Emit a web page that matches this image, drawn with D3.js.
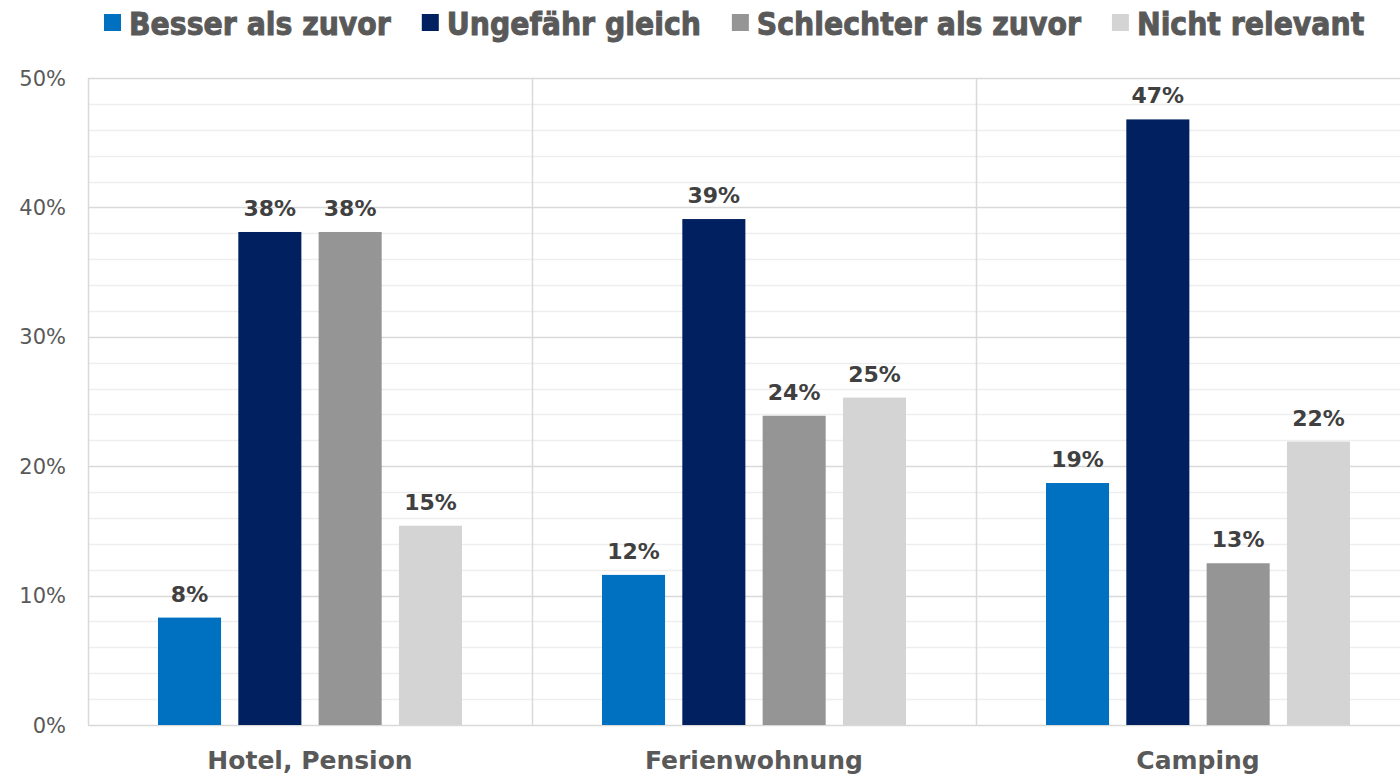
<!DOCTYPE html>
<html>
<head>
<meta charset="utf-8">
<script src="https://cdn.jsdelivr.net/npm/d3@7"></script>
<style>
  body { margin: 0; background: #fff; }
  text { font-family: "DejaVu Sans", sans-serif; }
</style>
</head>
<body>
<svg width="1400" height="776"></svg>
<script>
var categories = ["Hotel, Pension", "Ferienwohnung", "Camping"];
var seriesNames = ["Besser als zuvor", "Ungefähr gleich", "Schlechter als zuvor", "Nicht relevant"];
var seriesColors = ["#0070c0", "#002060", "#959595", "#d4d4d4"];
// values in percent, one array per series (Hotel, Ferienwohnung, Camping)
var besser = [8.3, 11.6, 18.7];
var gleich = [38.1, 39.1, 46.8];
var schlechter = [38.1, 23.9, 12.5];
var nichtRelevant = [15.4, 25.3, 21.9];
var yTicks = [0, 10, 20, 30, 40, 50];

var series = [besser, gleich, schlechter, nichtRelevant];

var svg = d3.select("svg"),
    margin = {left: 88, top: 78, bottom: 51},
    height = +svg.attr("height");

var x0 = d3.scaleBand()
    .domain(categories)
    .range([margin.left, margin.left + 444 * categories.length]);

var x1 = d3.scaleBand()
    .domain(d3.range(seriesNames.length))
    .range([70, x0.bandwidth() - 70])
    .paddingInner(0.215);

var y = d3.scaleLinear()
    .domain([0, 50])
    .range([height - margin.bottom, margin.top]);

// minor grid
svg.append("g")
  .selectAll("line")
  .data(d3.range(2, 50, 2).filter(function(d) { return d % 10; }))
  .enter().append("line")
    .attr("x1", margin.left).attr("x2", 1420)
    .attr("y1", function(d) { return Math.round(y(d)) + 0.5; })
    .attr("y2", function(d) { return Math.round(y(d)) + 0.5; })
    .attr("stroke", "#eeeeee")
    .attr("stroke-width", 1.5);

// major grid
svg.append("g")
  .selectAll("line")
  .data(yTicks)
  .enter().append("line")
    .attr("x1", margin.left).attr("x2", 1420)
    .attr("y1", function(d) { return Math.round(y(d)) + 0.5; })
    .attr("y2", function(d) { return Math.round(y(d)) + 0.5; })
    .attr("stroke", "#d9d9d9")
    .attr("stroke-width", 1.5);

// category separators
svg.append("g")
  .selectAll("line")
  .data(categories)
  .enter().append("line")
    .attr("x1", function(d) { return Math.round(x0(d)) + 0.5; })
    .attr("x2", function(d) { return Math.round(x0(d)) + 0.5; })
    .attr("y1", y(50)).attr("y2", y(0))
    .attr("stroke", "#d9d9d9")
    .attr("stroke-width", 1.5);

// y labels
svg.append("g")
  .selectAll("text")
  .data(yTicks)
  .enter().append("text")
    .attr("x", 66)
    .attr("y", function(d) { return y(d); })
    .attr("dy", "0.36em")
    .attr("text-anchor", "end")
    .attr("fill", "#595959")
    .style("font-size", "21px")
    .text(function(d) { return d + "%"; });

// bars
var group = svg.selectAll(".group")
  .data(categories)
  .enter().append("g")
    .attr("class", "group")
    .attr("transform", function(d) { return "translate(" + x0(d) + ",0)"; });

var bar = group.selectAll(".bar")
  .data(function(d, ci) { return series.map(function(s, si) { return {s: si, v: s[ci]}; }); })
  .enter();

bar.append("rect")
    .attr("x", function(d) { return x1(d.s); })
    .attr("width", x1.bandwidth())
    .attr("y", function(d) { return y(d.v); })
    .attr("height", function(d) { return y(0) - y(d.v); })
    .attr("fill", function(d) { return seriesColors[d.s]; });

bar.append("text")
    .attr("x", function(d) { return x1(d.s) + x1.bandwidth() / 2; })
    .attr("y", function(d) { return y(d.v) - 16; })
    .attr("text-anchor", "middle")
    .attr("fill", "#404040")
    .style("font-size", "22px")
    .style("font-weight", "bold")
    .text(function(d) { return Math.round(d.v) + "%"; });

// category labels
svg.append("g")
  .selectAll("text")
  .data(categories)
  .enter().append("text")
    .attr("x", function(d) { return x0(d) + x0.bandwidth() / 2; })
    .attr("y", 769)
    .attr("text-anchor", "middle")
    .attr("fill", "#595959")
    .style("font-size", "25px")
    .style("font-weight", "bold")
    .text(function(d) { return d; });

// legend
var legend = svg.append("g"),
    lx = 104;
seriesNames.forEach(function(name, i) {
  legend.append("rect")
      .attr("x", lx).attr("y", 14)
      .attr("width", 17).attr("height", 17)
      .attr("fill", seriesColors[i]);
  var t = legend.append("text")
      .attr("x", lx + 25)
      .attr("y", 35)
      .attr("fill", "#595959")
      .attr("stroke", "#595959")
      .attr("stroke-width", 0.9)
      .style("font-family", "'DejaVu Sans Condensed', 'DejaVu Sans', sans-serif")
      .style("font-stretch", "condensed")
      .style("font-size", "31.5px")
      .style("font-weight", "bold")
      .text(name);
  lx += 25 + t.node().getComputedTextLength() + 31;
});
</script>
</body>
</html>
